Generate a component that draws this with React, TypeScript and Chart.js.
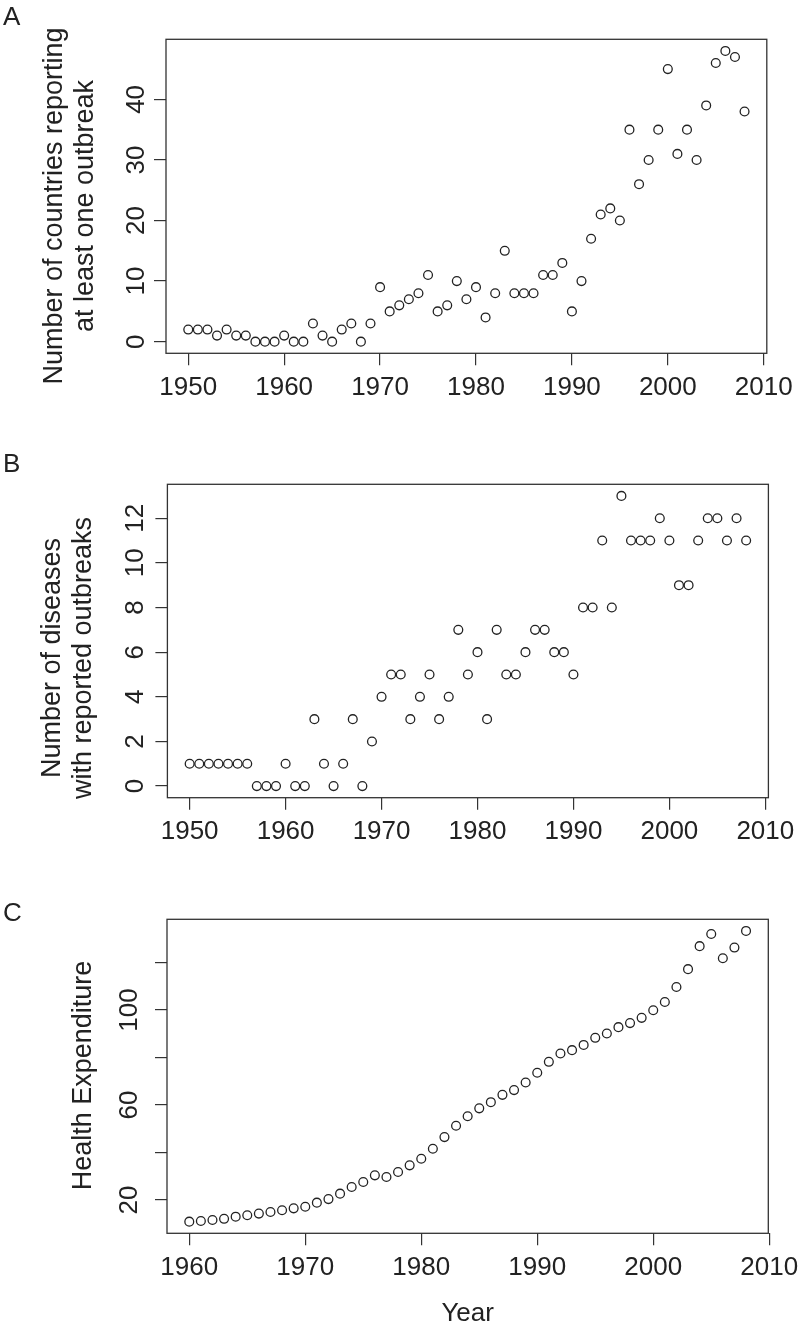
import React, { useEffect, useRef } from 'react';
import { Chart, registerables } from 'chart.js';

Chart.register(...registerables);

// ---------- data ----------
const yearsAB = [
  1950, 1951, 1952, 1953, 1954, 1955, 1956, 1957, 1958, 1959,
  1960, 1961, 1962, 1963, 1964, 1965, 1966, 1967, 1968, 1969,
  1970, 1971, 1972, 1973, 1974, 1975, 1976, 1977, 1978, 1979,
  1980, 1981, 1982, 1983, 1984, 1985, 1986, 1987, 1988, 1989,
  1990, 1991, 1992, 1993, 1994, 1995, 1996, 1997, 1998, 1999,
  2000, 2001, 2002, 2003, 2004, 2005, 2006, 2007, 2008,
];

const countriesReporting = [
  2, 2, 2, 1, 2, 1, 1, 0, 0, 0,
  1, 0, 0, 3, 1, 0, 2, 3, 0, 3,
  9, 5, 6, 7, 8, 11, 5, 6, 10, 7,
  9, 4, 8, 15, 8, 8, 8, 11, 11, 13,
  5, 10, 17, 21, 22, 20, 35, 26, 30, 35,
  45, 31, 35, 30, 39, 46, 48, 47, 38,
];

const diseasesReported = [
  1, 1, 1, 1, 1, 1, 1, 0, 0, 0,
  1, 0, 0, 3, 1, 0, 1, 3, 0, 2,
  4, 5, 5, 3, 4, 5, 3, 4, 7, 5,
  6, 3, 7, 5, 5, 6, 7, 7, 6, 6,
  5, 8, 8, 11, 8, 13, 11, 11, 11, 12,
  11, 9, 9, 11, 12, 12, 11, 12, 11,
];

const yearsC = [
  1960, 1961, 1962, 1963, 1964, 1965, 1966, 1967, 1968, 1969,
  1970, 1971, 1972, 1973, 1974, 1975, 1976, 1977, 1978, 1979,
  1980, 1981, 1982, 1983, 1984, 1985, 1986, 1987, 1988, 1989,
  1990, 1991, 1992, 1993, 1994, 1995, 1996, 1997, 1998, 1999,
  2000, 2001, 2002, 2003, 2004, 2005, 2006, 2007, 2008,
];

const healthExpenditure = [
  10.9, 11.2, 11.6, 12.1, 13.0, 13.6, 14.3, 14.95, 15.7, 16.5,
  17.2, 18.9, 20.4, 22.7, 25.5, 27.6, 30.4, 29.7, 31.8, 34.6,
  37.4, 41.6, 46.5, 51.3, 55.3, 58.6, 61.2, 64.3, 66.3, 69.5,
  73.6, 78.2, 81.7, 83.1, 85.3, 88.3, 90.1, 92.8, 94.5, 96.7,
  99.9, 103.4, 109.7, 117.2, 126.9, 132.0, 121.8, 126.3, 133.3,
];

const xTicksAB = [1950, 1960, 1970, 1980, 1990, 2000, 2010];
const xTicksC = [1960, 1970, 1980, 1990, 2000, 2010];
const yTicksA = [0, 10, 20, 30, 40];
const yTicksB = [0, 2, 4, 6, 8, 10, 12];
const yTicksC = [20, 40, 60, 80, 100, 120];
const yTickLabelsC = ['20', '', '60', '', '100', ''];

const titleA = ['Number of countries reporting', 'at least one outbreak'];
const titleB = ['Number of diseases', 'with reported outbreaks'];
const titleC = ['Health Expenditure'];
const xTitleC = 'Year';

// ---------- styling / layout ----------
const W = 799;
const FONT = 'Liberation Sans';
const INK = '#222';
const LINE = '#333';

function rRange(vals: number[]): [number, number] {
  const lo = Math.min(...vals);
  const hi = Math.max(...vals);
  const d = (hi - lo) * 0.04;
  return [lo - d, hi + d];
}

const rFrame = {
  id: 'rFrame',
  afterDraw(chart: any, _args: any, opts: any) {
    const { ctx, chartArea: a } = chart;
    ctx.save();
    ctx.strokeStyle = LINE;
    ctx.lineWidth = 1.3;
    ctx.strokeRect(a.left, a.top, a.right - a.left, a.bottom - a.top);
    ctx.fillStyle = INK;
    ctx.font = `26px "${FONT}"`;
    ctx.textBaseline = 'alphabetic';
    ctx.textAlign = 'left';
    ctx.fillText(opts.letter, opts.letterX, opts.letterY);
    ctx.font = `27px "${FONT}"`;
    ctx.textAlign = 'center';
    for (const l of opts.lines) {
      ctx.save();
      ctx.translate(l.x, l.y);
      ctx.rotate(-Math.PI / 2);
      ctx.fillText(l.text, 0, 0);
      ctx.restore();
    }
    ctx.restore();
  },
};

type Panel = {
  key: string;
  T: number;
  H: number;
  box: { l: number; t: number; r: number; b: number };
  xs: number[];
  ys: number[];
  xTicks: number[];
  yTicks: number[];
  yLabels: string[];
  yPad: number;
  letter: string;
  letterX: number;
  letterY: number;
  titleLines: string[];
  titleX: number[];
  titleY: number;
  xTitle?: string;
};

const panels: Panel[] = [
  {
    key: 'A', T: 0, H: 443,
    box: { l: 166.0, t: 39.3, r: 766.8, b: 353.3 },
    xs: yearsAB, ys: countriesReporting,
    xTicks: xTicksAB, yTicks: yTicksA, yLabels: yTicksA.map(String), yPad: 2.5,
    letter: 'A', letterX: 3, letterY: 25,
    titleLines: titleA, titleX: [61.5, 93.3], titleY: 206,
  },
  {
    key: 'B', T: 443, H: 443,
    box: { l: 167.4, t: 484.3, r: 768.4, b: 797.7 },
    xs: yearsAB, ys: diseasesReported,
    xTicks: xTicksAB, yTicks: yTicksB, yLabels: yTicksB.map(String), yPad: 5.5,
    letter: 'B', letterX: 3, letterY: 28.7,
    titleLines: titleB, titleX: [60, 91], titleY: 215,
  },
  {
    key: 'C', T: 886, H: 445,
    box: { l: 167.0, t: 919.3, r: 768.3, b: 1233.3 },
    xs: yearsC, ys: healthExpenditure,
    xTicks: xTicksC, yTicks: yTicksC, yLabels: yTickLabelsC, yPad: 3.8,
    letter: 'C', letterX: 3, letterY: 35,
    titleLines: titleC, titleX: [91], titleY: 189.5,
    xTitle: xTitleC,
  },
];

function buildConfig(p: Panel): any {
  const [xMin, xMax] = rRange(p.xs);
  const [yMin, yMax] = rRange(p.ys);
  const xHeight = p.H - (p.box.b - p.T);
  const tickFont = { family: FONT, size: 26 };
  const grid = { drawOnChartArea: false, drawTicks: true, tickLength: 12, color: LINE, lineWidth: 1.2 };
  return {
    type: 'scatter',
    data: {
      datasets: [
        {
          data: p.xs.map((x, i) => ({ x, y: p.ys[i] })),
          pointStyle: 'circle',
          pointRadius: 4.4,
          pointBorderWidth: 1.3,
          pointBorderColor: INK,
          pointBackgroundColor: 'rgba(0,0,0,0)',
          showLine: false,
          clip: false,
        },
      ],
    },
    options: {
      animation: false,
      responsive: false,
      maintainAspectRatio: false,
      devicePixelRatio: 1,
      events: [],
      layout: { padding: { left: 0, top: p.box.t - p.T, right: W - p.box.r, bottom: 0 } },
      plugins: {
        legend: { display: false },
        tooltip: { enabled: false },
        rFrame: {
          letter: p.letter, letterX: p.letterX, letterY: p.letterY,
          lines: p.titleLines.map((text, i) => ({ text, x: p.titleX[i], y: p.titleY })),
        },
      },
      scales: {
        x: {
          type: 'linear', position: 'bottom', min: xMin, max: xMax,
          afterBuildTicks: (s: any) => { s.ticks = p.xTicks.map((v) => ({ value: v })); },
          afterFit: (s: any) => {
            s.height = xHeight;
            s.paddingLeft = 0; s.paddingRight = 0; s.paddingTop = 0; s.paddingBottom = 0;
          },
          grid, border: { display: false },
          ticks: {
            color: INK, font: tickFont, padding: 7, autoSkip: false, minRotation: 0, maxRotation: 0,
            callback: (v: any) => String(v),
          },
          title: p.xTitle
            ? { display: true, text: p.xTitle, color: INK, font: { family: FONT, size: 26 }, padding: { top: 0, bottom: 1.5 } }
            : { display: false },
        },
        y: {
          type: 'linear', position: 'left', min: yMin, max: yMax,
          afterBuildTicks: (s: any) => { s.ticks = p.yTicks.map((v) => ({ value: v })); },
          afterFit: (s: any) => {
            s.width = p.box.l;
            s.paddingLeft = 0; s.paddingRight = 0; s.paddingTop = 0; s.paddingBottom = 0;
          },
          grid, border: { display: false },
          ticks: {
            color: INK, font: tickFont, padding: p.yPad, autoSkip: false,
            minRotation: 90, maxRotation: 90, crossAlign: 'center',
            callback: (_v: any, i: number) => p.yLabels[i],
          },
        },
      },
    },
    plugins: [rFrame],
  };
}

function PanelChart({ p }: { p: Panel }) {
  const ref = useRef<HTMLCanvasElement | null>(null);
  useEffect(() => {
    if (!ref.current) return;
    const chart = new Chart(ref.current, buildConfig(p));
    return () => chart.destroy();
  }, [p]);
  return (
    <canvas
      ref={ref}
      width={W}
      height={p.H}
      style={{ position: 'absolute', left: 0, top: p.T, width: W, height: p.H, display: 'block' }}
    />
  );
}

export default function App() {
  return (
    <div style={{ position: 'absolute', left: 0, top: 0, width: W, height: 1331, background: '#fff', overflow: 'hidden' }}>
      {panels.map((p) => (
        <PanelChart key={p.key} p={p} />
      ))}
    </div>
  );
}
